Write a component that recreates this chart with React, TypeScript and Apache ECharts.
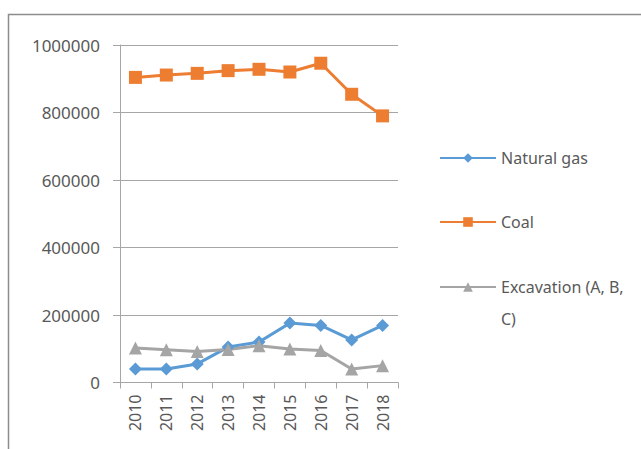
import React, { useEffect, useRef } from "react";
import * as echarts from "echarts";

const years = ["2010", "2011", "2012", "2013", "2014", "2015", "2016", "2017", "2018"];
const naturalGas = [40000, 40000, 55000, 105000, 120000, 176000, 169000, 126000, 169000];
const coal = [904000, 911000, 916000, 924000, 928000, 920000, 946000, 854000, 790000];
const excavation = [102000, 97000, 92000, 98000, 109000, 99000, 95000, 40000, 50000];
const yTicks = { min: 0, max: 1000000, interval: 200000 };

const FONT = "Noto Sans";
const TEXT = "#595959";
const LINE = "#A6A6A6";

export default function App() {
  const ref = useRef<HTMLDivElement>(null);
  useEffect(() => {
    if (!ref.current) return;
    const chart = echarts.init(ref.current, undefined, { renderer: "svg" });
    chart.setOption({
      animation: false,
      backgroundColor: "#ffffff",
      graphic: [
        {
          type: "rect",
          shape: { x: 8.5, y: 14.5, width: 700, height: 500 },
          style: { fill: "none", stroke: "#8c8c8c", lineWidth: 1.5 },
          silent: true,
        },
      ],
      grid: { left: 120, top: 45, right: 243, bottom: 66.5, containLabel: false },
      xAxis: {
        type: "category",
        data: years,
        boundaryGap: true,
        axisLine: { show: true, lineStyle: { color: LINE, width: 1 } },
        axisTick: { show: true, length: 6, alignWithLabel: false, lineStyle: { color: LINE } },
        axisLabel: {
          rotate: 90,
          margin: 12,
          fontSize: 16,
          fontFamily: FONT,
          color: TEXT,
          interval: 0,
        },
        splitLine: { show: false },
      },
      yAxis: {
        type: "value",
        min: yTicks.min,
        max: yTicks.max,
        interval: yTicks.interval,
        axisLine: { show: true, lineStyle: { color: LINE, width: 1 } },
        axisTick: { show: true, length: 7, lineStyle: { color: LINE } },
        axisLabel: {
          margin: 20,
          fontSize: 17,
          fontFamily: FONT,
          color: TEXT,
          formatter: (v: number) => String(v),
        },
        splitLine: { show: true, lineStyle: { color: LINE, width: 1 } },
      },
      legend: [
        {
          orient: "vertical",
          left: 439,
          top: 148,
          padding: 0,
          itemGap: 44,
          itemWidth: 56,
          itemHeight: 12,
          data: ["Natural gas", "Coal"],
          textStyle: { fontSize: 16, fontFamily: FONT, color: TEXT, lineHeight: 20 },
        },
        {
          orient: "vertical",
          left: 439,
          top: 239,
          padding: 0,
          itemWidth: 56,
          itemHeight: 12,
          data: ["Excavation (A, B, C)"],
          formatter: () => " \nExcavation (A, B,\nC)",
          textStyle: {
            fontSize: 16,
            fontFamily: FONT,
            color: TEXT,
            lineHeight: 32,
          },
        },
      ],
      series: [
        {
          name: "Natural gas",
          type: "line",
          data: naturalGas,
          symbol: "diamond",
          symbolSize: 13,
          lineStyle: { color: "#5B9BD5", width: 3 },
          itemStyle: { color: "#5B9BD5" },
        },
        {
          name: "Coal",
          type: "line",
          data: coal,
          symbol: "rect",
          symbolSize: 13,
          lineStyle: { color: "#ED7D31", width: 3 },
          itemStyle: { color: "#ED7D31" },
        },
        {
          name: "Excavation (A, B, C)",
          type: "line",
          data: excavation,
          symbol: "triangle",
          symbolSize: 13,
          lineStyle: { color: "#A5A5A5", width: 3 },
          itemStyle: { color: "#A5A5A5" },
        },
      ],
    });
    return () => chart.dispose();
  }, []);
  return (
    <div
      ref={ref}
      style={{ position: "fixed", left: 0, top: 0, width: 641, height: 449 }}
    />
  );
}
